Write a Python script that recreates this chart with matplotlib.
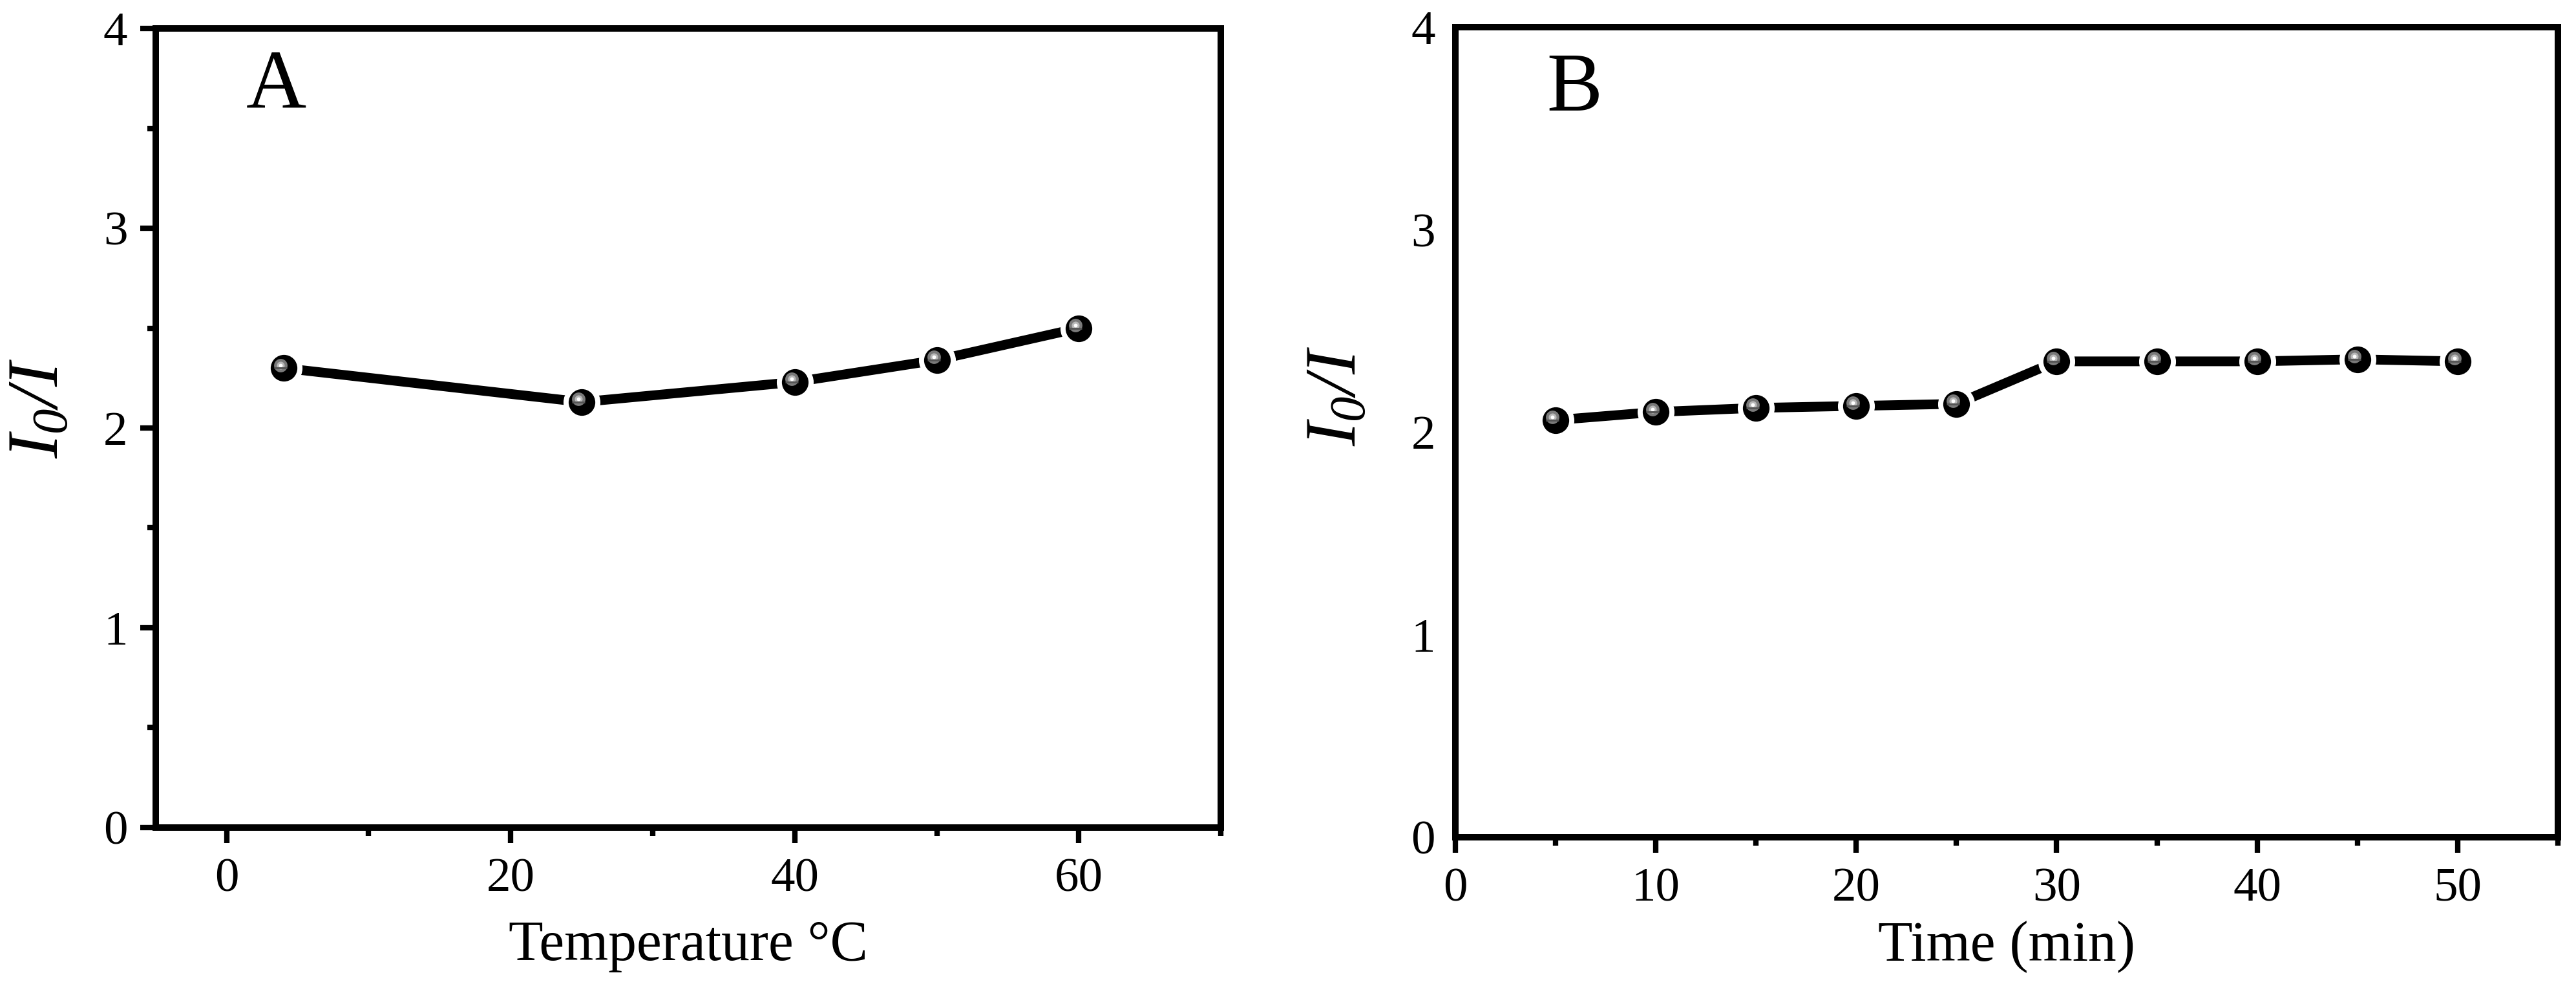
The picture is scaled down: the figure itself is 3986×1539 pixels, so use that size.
import matplotlib
matplotlib.use("Agg")
import matplotlib.pyplot as plt
from matplotlib import transforms
from matplotlib.ticker import MultipleLocator

plt.rcParams["font.family"] = ["Liberation Serif", "DejaVu Serif"]
# the only math text is the italic y label, so every math font is italic
plt.rcParams["mathtext.fontset"] = "custom"
plt.rcParams["mathtext.rm"] = "Liberation Serif:italic"
plt.rcParams["mathtext.it"] = "Liberation Serif:italic"
plt.rcParams["mathtext.default"] = "it"

# panel A: temperature
temp_c = [4, 25, 40, 50, 60]
ratio_temp = [2.30, 2.13, 2.23, 2.34, 2.50]

# panel B: incubation time
time_min = [5, 10, 15, 20, 25, 30, 35, 40, 45, 50]
ratio_time = [2.06, 2.10, 2.12, 2.13, 2.14, 2.35, 2.35, 2.35, 2.36, 2.35]

y_label = r"$I_0/I$"

DPI = 300
fig = plt.figure(figsize=(3987 / DPI, 1539 / DPI), dpi=DPI)
ax_a = fig.add_axes([0.0604, 0.1683, 0.4134, 0.8031])
ax_b = fig.add_axes([0.5648, 0.1585, 0.4279, 0.8142])


def draw_series(ax, x, y):
    ax.plot(x, y, color="black", lw=3.6, zorder=2, solid_capstyle="butt")
    ax.plot(x, y, ls="none", marker="o", ms=11.8, mfc="black",
            mec="white", mew=1.9, zorder=3)
    hl = transforms.offset_copy(ax.transData, fig=fig, x=-1.2, y=1.1,
                                units="points")
    ax.plot(x, y, ls="none", marker="o", ms=5.0, mfc="#7a7a7a", mec="none",
            transform=hl, zorder=4)
    ax.plot(x, y, ls="none", marker="o", ms=2.9, mfc="#b8b8b8", mec="none",
            transform=hl, zorder=5)
    ax.plot(x, y, ls="none", marker="o", ms=1.4, mfc="white", mec="none",
            transform=hl, zorder=6)
    cap = transforms.offset_copy(ax.transData, fig=fig, x=-1.2, y=0,
                                 units="points")
    ax.plot(x, y, ls="none", marker="_", ms=5.0, mec="#555555", mew=0.7,
            transform=cap, zorder=7)


def style_axes(ax):
    for sp in ax.spines.values():
        sp.set_linewidth(2.4)
    ax.set_ylim(0, 4)
    ax.yaxis.set_major_locator(MultipleLocator(1))
    ax.tick_params(axis="both", which="both", direction="out", top=False,
                   right=False, labelsize=18)
    ax.tick_params(axis="x", which="major", length=5.8, width=2.0, pad=5.5)
    ax.tick_params(axis="x", which="minor", length=3.1, width=2.0)


# panel A
draw_series(ax_a, temp_c, ratio_temp)
style_axes(ax_a)
ax_a.set_xlim(-5, 70)
ax_a.xaxis.set_major_locator(MultipleLocator(20))
ax_a.xaxis.set_minor_locator(MultipleLocator(10))
ax_a.yaxis.set_minor_locator(MultipleLocator(0.5))
ax_a.tick_params(axis="y", which="major", length=5.8, width=2.0, pad=4.6)
ax_a.tick_params(axis="y", which="minor", length=3.1, width=2.0)
ax_a.set_xlabel("Temperature \u00b0C", fontsize=21)
ax_a.xaxis.set_label_coords(0.5, -0.116)
ax_a.set_ylabel(y_label, fontsize=27)
ax_a.yaxis.set_label_coords(-0.077, 0.525)
ax_a.text(0.085, 0.901, "A", transform=ax_a.transAxes, fontsize=31,
          va="baseline", ha="left")

# panel B
draw_series(ax_b, time_min, ratio_time)
style_axes(ax_b)
ax_b.set_xlim(0, 55)
ax_b.xaxis.set_major_locator(MultipleLocator(10))
ax_b.xaxis.set_minor_locator(MultipleLocator(5))
ax_b.tick_params(axis="y", which="both", length=0, pad=7.4)
ax_b.set_xlabel("Time (min)", fontsize=21)
ax_b.xaxis.set_label_coords(0.5, -0.103)
ax_b.set_ylabel(y_label, fontsize=27)
ax_b.yaxis.set_label_coords(-0.076, 0.545)
ax_b.text(0.083, 0.897, "B", transform=ax_b.transAxes, fontsize=31,
          va="baseline", ha="left")

fig.savefig("out.png", dpi=DPI, facecolor="white")
